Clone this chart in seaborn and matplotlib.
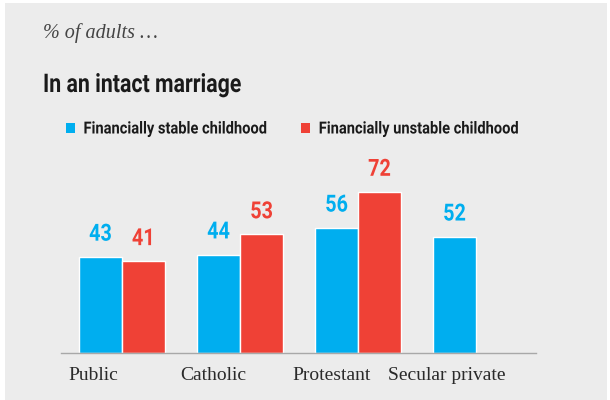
import matplotlib
matplotlib.use("Agg")
import matplotlib.pyplot as plt
import seaborn as sns
import pandas as pd
from matplotlib.patches import Patch, Rectangle
from matplotlib.patheffects import AbstractPathEffect
from matplotlib.transforms import Affine2D

# ---- data ----
schools = ["Public", "Catholic", "Protestant", "Secular private"]
series = ["Financially stable childhood", "Financially unstable childhood"]
stable = [43, 44, 56, 52]
unstable = [41, 53, 72, None]
colors = {"Financially stable childhood": "#00AEEF",
          "Financially unstable childhood": "#EF4136"}
label_shift = [-0.458, -0.508, -0.559, -0.746]  # left edge of category labels, rel. to group centre

rows = []
for s, a, b in zip(schools, stable, unstable):
    rows.append({"school": s, "childhood": series[0], "pct": a})
    if b is not None:
        rows.append({"school": s, "childhood": series[1], "pct": b})
df = pd.DataFrame(rows)


class Condense(AbstractPathEffect):
    """Draw text horizontally compressed (imitates a condensed typeface)."""

    def __init__(self, sx=0.85, anchor="left"):
        super().__init__()
        self.sx = sx
        self.anchor = anchor

    def draw_path(self, renderer, gc, tpath, affine, rgbFace=None):
        ext = tpath.get_extents()
        cx = (ext.x0 + ext.x1) / 2 if self.anchor == "center" else 0.0
        t = Affine2D().translate(-cx, 0).scale(self.sx, 1).translate(cx, 0) + affine
        renderer.draw_path(gc, tpath, t, rgbFace)


sns.set_theme(style="white")
BG = "#ececec"
narrow = ["Roboto", "DejaVu Sans"]
serif = ["Liberation Serif", "DejaVu Serif"]

fig = plt.figure(figsize=(6.1, 4.0), dpi=100)
fig.patch.set_facecolor("white")
fig.patches.append(Rectangle((5 / 610, 0), 602 / 610, 397 / 400, transform=fig.transFigure,
                             facecolor=BG, edgecolor="none", zorder=-10))

ax = fig.add_axes([61 / 610, 47 / 400, 475 / 610, 179 / 400])
ax.set_facecolor("none")
sns.barplot(data=df, x="school", y="pct", hue="childhood", order=schools,
            hue_order=series, palette=colors, width=0.73, saturation=1,
            errorbar=None, ax=ax, legend=False)

for cont, name in zip(ax.containers, series):
    labs = ax.bar_label(cont, fmt="%d", padding=8, color=colors[name], fontsize=17,
                        fontweight="bold", family=narrow)
    for t in labs:
        t.set_path_effects([Condense(0.84, "center")])

ax.set_xlim(-0.517, 3.508)
ax.set_ylim(0, 80)
for sp in ["top", "right", "left"]:
    ax.spines[sp].set_visible(False)
ax.spines["bottom"].set_color("#a8a8a8")
ax.spines["bottom"].set_linewidth(1.0)
ax.set_yticks([])
ax.set_xticks([])
ax.set_xlabel("")
ax.set_ylabel("")

trans = ax.get_xaxis_transform()
for i, (s, sh) in enumerate(zip(schools, label_shift)):
    ax.text(i + sh, -0.08, s, transform=trans, ha="left", va="top",
            fontsize=14, family=serif, color="#2a2a2a")

fig.text(43 / 610, 1 - 38 / 400, "% of adults \u2026", fontsize=14.5, style="italic",
         family=serif, color="#444444", va="baseline", ha="left")
title = fig.text(43 / 610, 1 - 92 / 400, "In an intact marriage", fontsize=18.5,
                 fontweight="bold", family=narrow, color="#1a1a1a",
                 va="baseline", ha="left")
title.set_path_effects([Condense(0.83)])

handles = [Patch(facecolor=colors[n], edgecolor="none") for n in series]
leg = fig.legend(handles, series, loc="center left", bbox_to_anchor=(66 / 610, 1 - 129 / 400),
                 ncol=2, frameon=False, borderpad=0, borderaxespad=0,
                 handlelength=0.55, handleheight=0.55, handletextpad=0.5,
                 columnspacing=0.6, prop={"family": narrow, "weight": "bold", "size": 12})
for t in leg.get_texts():
    t.set_color("#1a1a1a")
    t.set_path_effects([Condense(0.88)])

fig.savefig("out.png", dpi=100, facecolor=fig.get_facecolor())
